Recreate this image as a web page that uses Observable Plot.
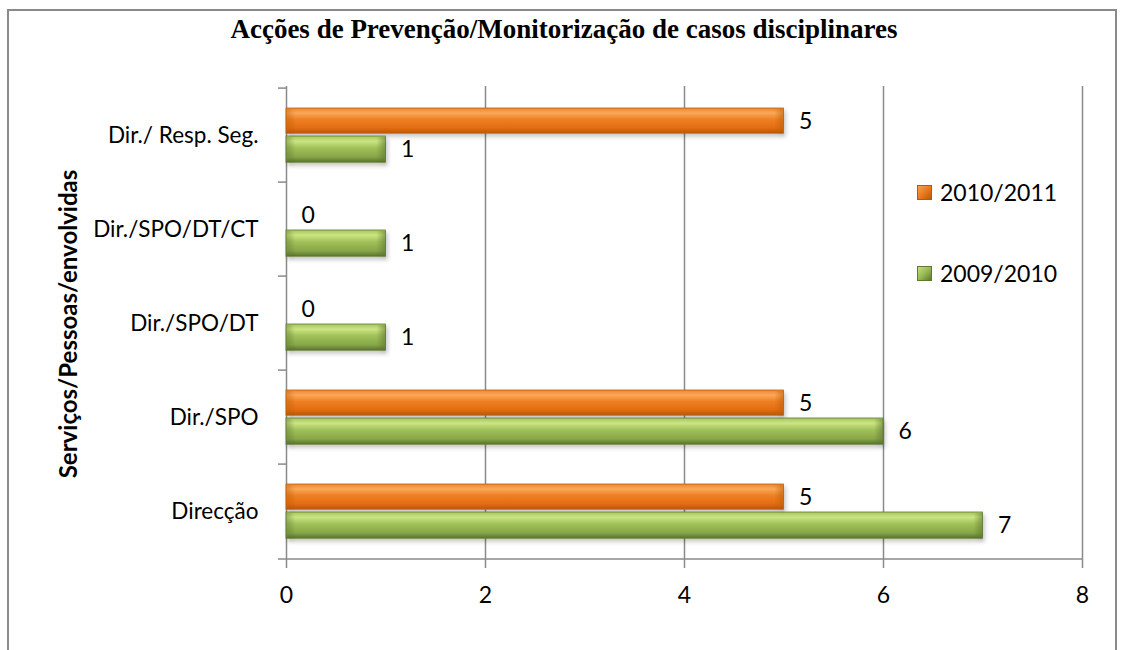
<!DOCTYPE html>
<html>
<head>
<meta charset="utf-8">
<script src="https://cdn.jsdelivr.net/npm/d3@7"></script>
<script src="https://cdn.jsdelivr.net/npm/@observablehq/plot@0.6"></script>
<style>
  body { margin: 0; background: #fff; }
  #wrap { position: relative; width: 1124px; height: 650px; overflow: hidden; font-family: Lato, "Open Sans", sans-serif; }
  #border { position: absolute; left: 7px; top: 9px; width: 1110px; height: 700px; border: 2px solid #8a8a8a; box-sizing: border-box; }
  #title { position: absolute; left: 0; width: 1128px; top: 13px; text-align: center; font-family: "Liberation Serif", "Times New Roman", serif; font-weight: bold; font-size: 27px; line-height: 32px; color: #000; }
  #ytitle { position: absolute; left: 67px; top: 324px; transform: translate(-50%, -50%) rotate(-90deg); white-space: nowrap; font-weight: bold; font-size: 24px; color: #000; }
  .leg { position: absolute; left: 917px; font-size: 23px; line-height: 28px; display: flex; align-items: center; color: #000; }
  .sw { width: 15px; height: 15px; margin-right: 8px; box-sizing: border-box; }
  #chart { position: absolute; left: 0; top: 0; }
  #chart g[aria-label="bar"] rect { filter: url(#shadow); }
</style>
</head>
<body>
<div id="wrap">
  <div id="border"></div>
  <div id="chart"></div>
  <div id="title"></div>
  <div id="ytitle"></div>
  <div class="leg" id="leg1" style="top:178px"></div>
  <div class="leg" id="leg2" style="top:259px"></div>
</div>
<script>
const titleText = "Acções de Prevenção/Monitorização de casos disciplinares";
const yTitle = "Serviços/Pessoas/envolvidas";
const categories = ["Dir./ Resp. Seg.", "Dir./SPO/DT/CT", "Dir./SPO/DT", "Dir./SPO", "Direcção"];
const seriesNames = ["2010/2011", "2009/2010"];
const values2010_2011 = [5, 0, 0, 5, 5];
const values2009_2010 = [1, 1, 1, 6, 7];
const xTicks = [0, 2, 4, 6, 8];
const gridTicks = [2, 4, 6, 8];

const dOrange = categories.map((c, i) => ({cat: c, value: values2010_2011[i]}));
const dGreen = categories.map((c, i) => ({cat: c, value: values2009_2010[i]}));

document.getElementById("title").textContent = titleText;
document.getElementById("ytitle").textContent = yTitle;

const legColors = [
  ["linear-gradient(135deg, #f7a250 0%, #e8761a 55%, #b85a0c 100%)", "#b85a0c"],
  ["linear-gradient(135deg, #c8e07e 0%, #94b452 55%, #5e7a2c 100%)", "#5e7a2c"]
];
["leg1", "leg2"].forEach((id, i) => {
  const el = document.getElementById(id);
  const sw = document.createElement("div");
  sw.className = "sw";
  sw.style.background = legColors[i][0];
  sw.style.border = "1px solid " + legColors[i][1];
  el.appendChild(sw);
  const t = document.createElement("span");
  t.textContent = seriesNames[i];
  el.appendChild(t);
});

const defs = () => {
  const ns = "http://www.w3.org/2000/svg";
  const g = document.createElementNS(ns, "defs");
  g.innerHTML = `
    <linearGradient id="gO" x1="0" y1="0" x2="0" y2="1">
      <stop offset="0" stop-color="#ee8530"/>
      <stop offset="0.2" stop-color="#f9a85a"/>
      <stop offset="0.45" stop-color="#ef8024"/>
      <stop offset="0.8" stop-color="#e26c10"/>
      <stop offset="1" stop-color="#b5570b"/>
    </linearGradient>
    <linearGradient id="gG" x1="0" y1="0" x2="0" y2="1">
      <stop offset="0" stop-color="#a6c55c"/>
      <stop offset="0.2" stop-color="#cbe582"/>
      <stop offset="0.45" stop-color="#a1c15a"/>
      <stop offset="0.8" stop-color="#87a647"/>
      <stop offset="1" stop-color="#58732e"/>
    </linearGradient>
    <linearGradient id="capO" x1="0" y1="0" x2="1" y2="0">
      <stop offset="0" stop-color="#c2610e" stop-opacity="0"/>
      <stop offset="1" stop-color="#c2610e" stop-opacity="0.55"/>
    </linearGradient>
    <linearGradient id="capG" x1="0" y1="0" x2="1" y2="0">
      <stop offset="0" stop-color="#5f7a32" stop-opacity="0"/>
      <stop offset="1" stop-color="#5f7a32" stop-opacity="0.55"/>
    </linearGradient>
    <linearGradient id="capOL" x1="0" y1="0" x2="1" y2="0">
      <stop offset="0" stop-color="#c2610e" stop-opacity="0.45"/>
      <stop offset="1" stop-color="#c2610e" stop-opacity="0"/>
    </linearGradient>
    <linearGradient id="capGL" x1="0" y1="0" x2="1" y2="0">
      <stop offset="0" stop-color="#5f7a32" stop-opacity="0.45"/>
      <stop offset="1" stop-color="#5f7a32" stop-opacity="0"/>
    </linearGradient>
    <filter id="shadow" x="-5%" y="-30%" width="110%" height="180%">
      <feDropShadow dx="2" dy="3" stdDeviation="2" flood-color="#000" flood-opacity="0.22"/>
    </filter>`;
  return g;
};

const plotTop = 86, plotBottom = 560;
const band = (plotBottom - plotTop) / categories.length;
const gray = {stroke: "#8a8a8a", strokeWidth: 1.5, strokeOpacity: 1};
const nz = d => d.value > 0;

const plot = Plot.plot({
  width: 1124,
  height: 650,
  marginLeft: 286,
  marginRight: 42,
  marginTop: plotTop,
  marginBottom: 650 - plotBottom,
  style: {fontFamily: "Lato, 'Open Sans', sans-serif", fontSize: "22px", color: "#000", background: "transparent"},
  x: {domain: [0, 8]},
  y: {domain: categories, padding: 0},
  marks: [
    defs,
    Plot.ruleX(gridTicks, gray),
    Plot.ruleX([0], gray),
    Plot.ruleY(categories, {y: d => d, x1: 0, x2: 0, insetLeft: -8, dy: -band / 2, ...gray}),
    Plot.ruleY([categories[categories.length - 1]], {y: d => d, x1: 0, x2: 8, insetLeft: -8, dy: band / 2, ...gray}),
    Plot.axisX(xTicks, {tickSize: 8, tickPadding: 18, ...gray, fontSize: 23, label: null, color: "#000"}),
    Plot.axisY({tickSize: 0, tickPadding: 28, fontSize: 22.5, label: null}),
    Plot.barX(dOrange, {x: "value", y: "cat", fill: "url(#gO)", stroke: "#c0600e", strokeWidth: 0.8, insetTop: 20, insetBottom: band - 46}),
    Plot.barX(dGreen, {x: "value", y: "cat", fill: "url(#gG)", stroke: "#5f7a32", strokeWidth: 0.8, insetTop: 48, insetBottom: band - 75}),
    Plot.barX(dOrange, {filter: nz, x1: "value", x2: "value", y: "cat", insetLeft: -9, fill: "url(#capO)", insetTop: 21, insetBottom: band - 45}),
    Plot.barX(dGreen, {filter: nz, x1: "value", x2: "value", y: "cat", insetLeft: -9, fill: "url(#capG)", insetTop: 49, insetBottom: band - 74}),
    Plot.barX(dOrange, {filter: nz, x1: 0, x2: 0, y: "cat", insetRight: -8, fill: "url(#capOL)", insetTop: 21, insetBottom: band - 45}),
    Plot.barX(dGreen, {filter: nz, x1: 0, x2: 0, y: "cat", insetRight: -8, fill: "url(#capGL)", insetTop: 49, insetBottom: band - 74}),
    Plot.text(dOrange, {x: "value", y: "cat", text: d => String(d.value), dx: 15, dy: -14, textAnchor: "start", fontSize: 23, fill: "#000"}),
    Plot.text(dGreen, {x: "value", y: "cat", text: d => String(d.value), dx: 15, dy: 14, textAnchor: "start", fontSize: 23, fill: "#000"})
  ]
});
document.getElementById("chart").appendChild(plot);
</script>
</body>
</html>
